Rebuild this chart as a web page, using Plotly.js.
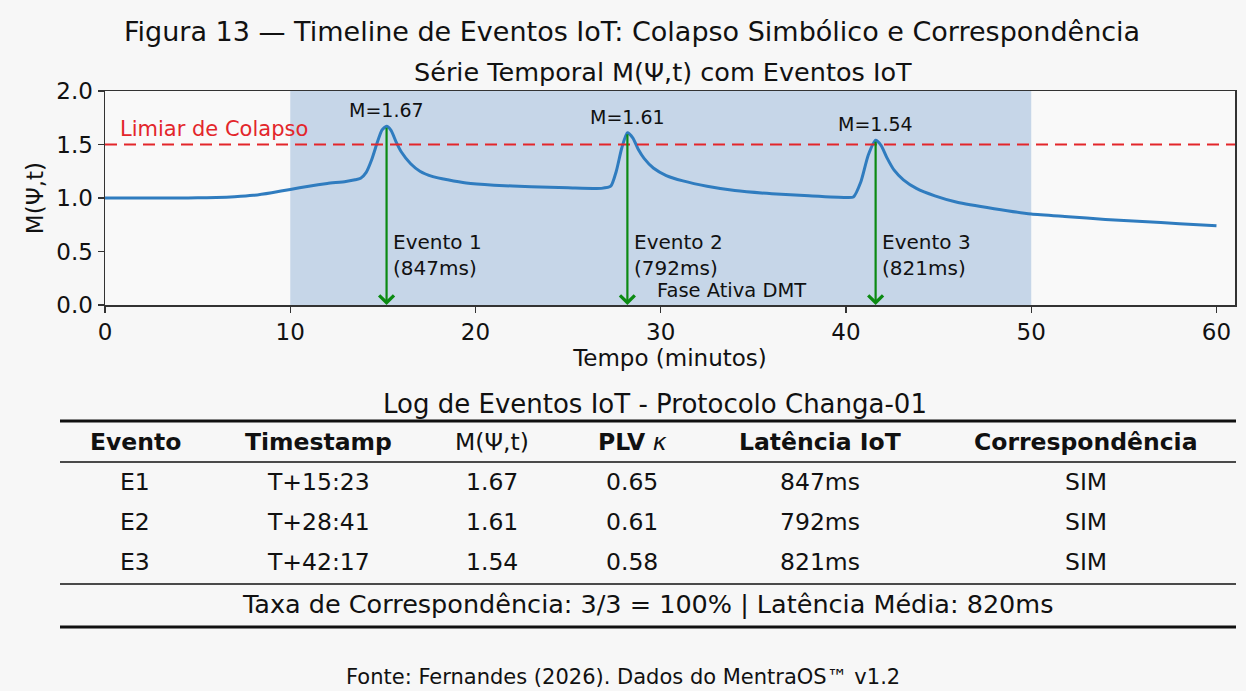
<!DOCTYPE html>
<html>
<head>
<meta charset="utf-8">
<script src="https://cdn.plot.ly/plotly-3.0.1.min.js"></script>
<style>html,body{margin:0;padding:0;background:#f7f7f7;}#chart{width:1246px;height:691px;}</style>
</head>
<body>
<div id="chart"></div>
<script>
// ---- Data ----
const timeMin = [0,2,4,5,6,7,8,9,10,11,12,13,13.5,13.8,14.1,14.4,14.7,14.95,15.2,15.45,15.7,16.0,16.5,17.0,17.7,18.5,19.5,21,23,25,26.8,27.3,27.6,27.9,28.2,28.5,28.8,29.1,29.6,30.3,31.2,32.5,34,36,38,40,40.4,40.8,41.2,41.6,41.9,42.2,42.6,43.1,43.8,44.8,46,48,50,52,54,56,58,60];
const mPsi = [1.00,1.00,1.00,1.002,1.005,1.012,1.025,1.05,1.08,1.11,1.135,1.155,1.17,1.185,1.24,1.36,1.52,1.635,1.67,1.63,1.53,1.43,1.32,1.25,1.20,1.17,1.14,1.12,1.105,1.095,1.09,1.11,1.25,1.47,1.61,1.56,1.45,1.37,1.28,1.21,1.16,1.11,1.07,1.04,1.02,1.005,1.01,1.15,1.40,1.54,1.49,1.38,1.26,1.17,1.09,1.02,0.96,0.90,0.85,0.825,0.80,0.78,0.76,0.74];
const eventTimes = [15.2, 28.2, 41.6];
const eventPeaks = [1.67, 1.61, 1.54];
const eventNames = ["Evento 1", "Evento 2", "Evento 3"];
const eventLatency = ["847ms", "792ms", "821ms"];
const threshold = 1.5;
const activePhase = [10, 50];

const tableHeaders = ["<b>Evento</b>", "<b>Timestamp</b>", "M(Ψ,t)", "<b>PLV</b> <i>κ</i>", "<b>Latência IoT</b>", "<b>Correspondência</b>"];
const colEvento = ["E1", "E2", "E3"];
const colTimestamp = ["T+15:23", "T+28:41", "T+42:17"];
const colM = ["1.67", "1.61", "1.54"];
const colPLV = ["0.65", "0.61", "0.58"];
const colLatency = ["847ms", "792ms", "821ms"];
const colCorr = ["SIM", "SIM", "SIM"];
const summaryText = "Taxa de Correspondência: 3/3 = 100% | Latência Média: 820ms";

// ---- Layout helpers ----
const W = 1246, H = 691;
const px = v => v / W;
const py = v => 1 - v / H;
const FONT = "DejaVu Sans, sans-serif";

const traces = [{
  x: timeMin, y: mPsi, type: "scatter", mode: "lines",
  line: {color: "#2f7cbf", width: 3, shape: "spline", smoothing: 0.6}, hoverinfo: "skip", showlegend: false
}];

const shapes = [
  {type: "rect", xref: "x", yref: "y", x0: activePhase[0], x1: activePhase[1], y0: 0, y1: 2,
   fillcolor: "#c6d6e8", line: {width: 0}, layer: "below"},
  {type: "line", xref: "paper", yref: "y", x0: px(105), x1: px(1235), y0: threshold, y1: threshold,
   line: {color: "#e3262b", width: 2, dash: "12px,7px"}}
];

const annotations = [];
for (let i = 0; i < eventTimes.length; i++) {
  annotations.push({x: eventTimes[i], y: 0, ax: eventTimes[i], ay: eventPeaks[i], xref: "x", yref: "y", axref: "x", ayref: "y",
    showarrow: true, arrowhead: 4, arrowsize: 1.3, arrowwidth: 2.2, arrowcolor: "#0b8a12", text: ""});
  annotations.push({x: eventTimes[i], y: eventPeaks[i] + 0.15, xref: "x", yref: "y", text: "M=" + eventPeaks[i].toFixed(2),
    showarrow: false, font: {family: FONT, size: 19, color: "#111"}, xanchor: "center", yanchor: "middle"});
  annotations.push({x: eventTimes[i] + 0.25, y: 0.47, xref: "x", yref: "y", text: eventNames[i] + "<br>(" + eventLatency[i] + ")",
    showarrow: false, font: {family: FONT, size: 20, color: "#111"}, xanchor: "left", yanchor: "middle", align: "left"});
}
annotations.push({x: 0.7, y: 1.645, xref: "x", yref: "y", text: "Limiar de Colapso", showarrow: false,
  font: {family: FONT, size: 21, color: "#e3262b"}, xanchor: "left", yanchor: "middle"});
annotations.push({x: 29.7, y: 0.14, xref: "x", yref: "y", text: "Fase Ativa DMT", showarrow: false,
  font: {family: FONT, size: 19.5, color: "#111"}, xanchor: "left", yanchor: "middle"});

// titles
annotations.push({x: px(632), y: py(32), xref: "paper", yref: "paper", text: "Figura 13 — Timeline de Eventos IoT: Colapso Simbólico e Correspondência",
  showarrow: false, font: {family: FONT, size: 27, color: "#111"}, xanchor: "center", yanchor: "middle"});
annotations.push({x: px(663), y: py(72), xref: "paper", yref: "paper", text: "Série Temporal M(Ψ,t) com Eventos IoT",
  showarrow: false, font: {family: FONT, size: 25.5, color: "#111"}, xanchor: "center", yanchor: "middle"});

// table
const tableTitleY = 404, headerY = 442, rowYs = [482, 522, 562], summaryY = 604;
const colX = [135, 318, 492, 632, 820, 1086];
annotations.push({x: px(655), y: py(tableTitleY), xref: "paper", yref: "paper", text: "Log de Eventos IoT - Protocolo Changa-01",
  showarrow: false, font: {family: FONT, size: 26, color: "#111"}, xanchor: "center", yanchor: "middle"});
tableHeaders.forEach((h, j) => annotations.push({x: px(colX[j]), y: py(headerY), xref: "paper", yref: "paper", text: h,
  showarrow: false, font: {family: FONT, size: 23.5, color: "#111"}, xanchor: "center", yanchor: "middle"}));
const cols = [colEvento, colTimestamp, colM, colPLV, colLatency, colCorr];
for (let r = 0; r < 3; r++) {
  cols.forEach((c, j) => annotations.push({x: px(colX[j]), y: py(rowYs[r]), xref: "paper", yref: "paper", text: c[r],
    showarrow: false, font: {family: FONT, size: 23.5, color: "#111"}, xanchor: "center", yanchor: "middle"}));
}
annotations.push({x: px(647), y: py(summaryY), xref: "paper", yref: "paper", text: summaryText,
  showarrow: false, font: {family: FONT, size: 25.5, color: "#111"}, xanchor: "center", yanchor: "middle"});
annotations.push({x: px(623), y: py(677), xref: "paper", yref: "paper", text: "Fonte: Fernandes (2026). Dados do MentraOS™ v1.2",
  showarrow: false, font: {family: FONT, size: 21, color: "#111"}, xanchor: "center", yanchor: "middle"});

const hline = (y, w) => ({type: "line", xref: "paper", yref: "paper", x0: px(60), x1: px(1236), y0: py(y), y1: py(y), line: {color: "#111", width: w}});
shapes.push(hline(421, 3), hline(462, 1.3), hline(584, 1.3), hline(627, 3));

const layout = {
  width: W, height: H,
  margin: {l: 0, r: 0, t: 0, b: 0},
  paper_bgcolor: "#f7f7f7", plot_bgcolor: "#f9f9f9",
  font: {family: FONT, color: "#111"},
  showlegend: false,
  xaxis: {domain: [px(105), px(1235)], range: [0, 61], tickvals: [0,10,20,30,40,50,60], ticks: "outside", ticklen: 6, tickwidth: 1.3, tickcolor: "#333",
    showline: true, linecolor: "#333", linewidth: 1.5, mirror: true, showgrid: false, zeroline: false,
    tickfont: {family: FONT, size: 23, color: "#111"},
    title: {text: "Tempo (minutos)", font: {family: FONT, size: 23, color: "#111"}, standoff: 2}},
  yaxis: {domain: [py(305), py(91)], range: [0, 2], tickvals: [0, 0.5, 1, 1.5, 2], ticktext: ["0.0","0.5","1.0","1.5","2.0"], ticks: "outside", ticklen: 6, tickwidth: 1.3, tickcolor: "#333",
    showline: true, linecolor: "#333", linewidth: 1.5, mirror: true, showgrid: false, zeroline: false,
    tickfont: {family: FONT, size: 23, color: "#111"},
    title: {text: "M(Ψ,t)", font: {family: FONT, size: 23, color: "#111"}, standoff: 6}},
  shapes: shapes,
  annotations: annotations
};

Plotly.newPlot("chart", traces, layout, {staticPlot: true, displayModeBar: false});
</script>
</body>
</html>
